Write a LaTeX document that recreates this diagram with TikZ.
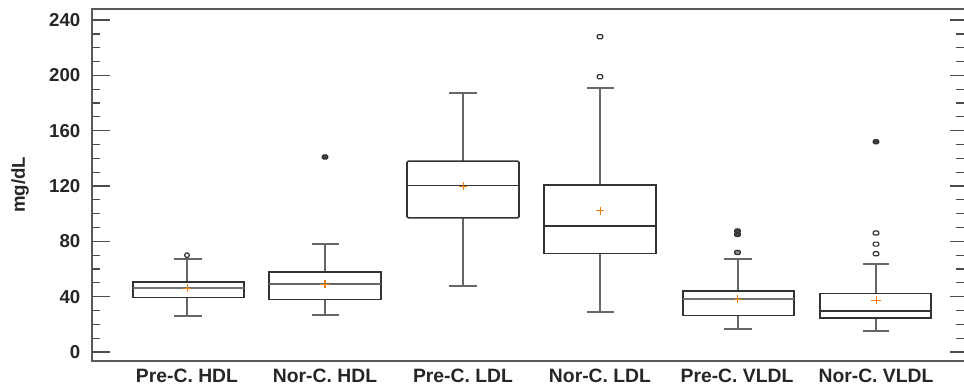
\documentclass[tikz,border=0pt]{standalone}
\usepackage{fontspec}
\setmainfont{Liberation Sans}
\begin{document}
\begin{tikzpicture}[x=0.75pt,y=0.75pt,
    frame/.style={draw=black!65,line width=1.2pt},
    tick/.style={draw=black!70,line width=0.9pt},
    whisk/.style={draw=black!60,line width=1.5pt},
    bx/.style={draw=black!80,line width=1.25pt},
    meanmk/.style={draw=orange!75!brown,line width=0.7pt},
    outl/.style={draw=black!80,line width=0.9pt,rounded corners=0.8pt,inner sep=0pt,minimum width=4pt,minimum height=3pt},
    lab/.style={font=\bfseries\fontsize{14}{16}\selectfont,text=black!85},
    grp/.style={font=\bfseries\fontsize{14.5}{16}\selectfont,text=black!85,inner sep=0pt,anchor=base}]
    \useasboundingbox (0,0) rectangle (964,387);
    \draw[frame] (964,378) -- (92,378) -- (92,26) -- (964,26);
    \node[lab,rotate=90] (ylab) at (20,202) {mg/dL};

    \begin{scope}[shift={(0,35)},yscale=1.383]
    % axis ticks, left and right
    \foreach \v in {0,10,...,240} {
      \draw[tick] (92,\v) -- ++(8,0) (956,\v) -- ++(8,0);
    }
    \foreach \v in {0,40,...,240} {
      \draw[tick] (92,\v) -- ++(18,0) (950,\v) -- ++(14,0);
      \node[lab,anchor=east] (t\v) at (85,\v) {\v};
    }

    % Pre-C. HDL
    \draw[whisk] (187,50.8) -- (187,67) (174,67) -- (202,67);
    \draw[whisk] (187,39.3) -- (187,26) (174,26) -- (202,26);
    \draw[bx] (133,39.3) rectangle (244,50.8);
    \draw[bx,draw=black!55,line width=1.5pt] (133,46) -- (244,46);
    \draw[meanmk] (187,46) ++(-4,0) -- ++(8,0) (187,46) ++(0,-2.9) -- ++(0,5.8);
    \node[outl,circle,minimum size=3.5pt] (o1) at (187,70) {};

    % Nor-C. HDL
    \draw[whisk] (325,58) -- (325,78.3) (312,78.3) -- (339,78.3);
    \draw[whisk] (325,38) -- (325,26.7) (312,26.7) -- (339,26.7);
    \draw[bx] (269,38) rectangle (381,58);
    \draw[bx,draw=black!60] (269,49) -- (381,49);
    \draw[meanmk,line width=1pt] (325,49) ++(-5,0) -- ++(10,0) (325,49) ++(0,-2.9) -- ++(0,5.8);
    \node[outl,fill=black!75] (o2) at (325,141) {};

    % Pre-C. LDL
    \draw[whisk] (463,138) -- (463,187) (449,187) -- (477,187);
    \draw[whisk] (463,97) -- (463,48) (449,48) -- (477,48);
    \draw[bx,rounded corners=1pt] (407,97) rectangle (519,138);
    \draw[bx] (407,120.5) -- (519,120.5);
    \draw[meanmk] (463,120) ++(-4,0) -- ++(8,0) (463,120) ++(0,-2.9) -- ++(0,5.8);

    % Nor-C. LDL
    \draw[whisk] (600,120.7) -- (600,191) (587,191) -- (614,191);
    \draw[whisk] (600,71.3) -- (600,29) (587,29) -- (614,29);
    \draw[bx] (544,71.3) rectangle (656,120.7);
    \draw[bx] (544,91.3) -- (656,91.3);
    \draw[meanmk] (600,102) ++(-4,0) -- ++(8,0) (600,102) ++(0,-2.9) -- ++(0,5.8);
    \node[outl] (o3) at (600,199) {};
    \node[outl] (o4) at (600,228) {};

    % Pre-C. VLDL
    \draw[whisk] (737.5,44) -- (737.5,67) (724,67) -- (752,67);
    \draw[whisk] (737.5,26.3) -- (737.5,16.4) (724,16.4) -- (752,16.4);
    \draw[bx] (683,26.3) rectangle (794,44);
    \draw[bx,draw=black!55,line width=1.5pt] (683,38.3) -- (794,38.3);
    \draw[meanmk] (737.5,38) ++(-4,0) -- ++(8,0) (737.5,38) ++(0,-2.9) -- ++(0,5.8);
    \node[outl,fill=black!45] (o5) at (737.5,72) {};
    \node[outl,fill=black!75] (o6) at (737.5,85) {};
    \node[outl,fill=black!75] (o7) at (737.5,87.5) {};

    % Nor-C. VLDL
    \draw[whisk] (876,42.4) -- (876,63.4) (863,63.4) -- (889,63.4);
    \draw[whisk] (876,24.8) -- (876,15.2) (863,15.2) -- (889,15.2);
    \draw[bx] (820,24.8) rectangle (931,42.4);
    \draw[bx] (820,29.6) -- (931,29.6);
    \draw[meanmk] (876,37.6) ++(-5,0) -- ++(10,0) (876,37.6) ++(0,-2.9) -- ++(0,5.8);
    \node[outl] (o8) at (876,71) {};
    \node[outl] (o9) at (876,78) {};
    \node[outl] (o10) at (876,86) {};
    \node[outl,fill=black!75] (o11) at (876,152) {};
    \end{scope}

    % group names
    \node[grp] (g1) at (187,5) {Pre-C. HDL};
    \node[grp] (g2) at (325,5) {Nor-C. HDL};
    \node[grp] (g3) at (463,5) {Pre-C. LDL};
    \node[grp] (g4) at (600,5) {Nor-C. LDL};
    \node[grp] (g5) at (737,5) {Pre-C. VLDL};
    \node[grp] (g6) at (876,5) {Nor-C. VLDL};

  \end{tikzpicture}
\end{document}
